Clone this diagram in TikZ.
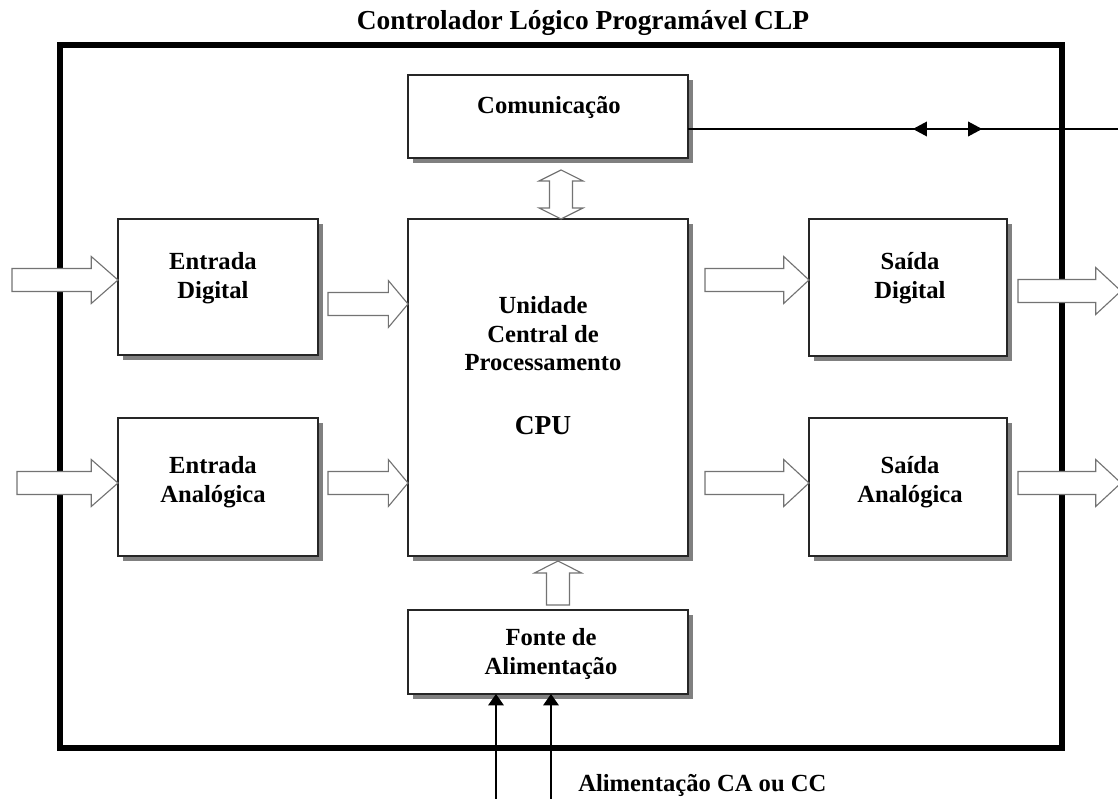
\documentclass[tikz,border=0pt]{standalone}
\usepackage{fontspec}
\setmainfont{Liberation Serif}
\usetikzlibrary{calc,fit,shadows,arrows.meta,decorations.markings}

\tikzset{
	bloco/.style={draw=black!85, line width=0.85pt, fill=white, inner sep=0pt, outer sep=0pt,
		drop shadow={shadow xshift=3.6pt, shadow yshift=-3.6pt, fill=black!50, opacity=1}},
	moldura/.style={draw=black, line width=4pt, inner sep=0pt, outer sep=0pt},
	rotulo/.style={font=\bfseries\fontsize{17.5}{20.3}\selectfont, align=center, inner sep=0pt},
	titulo/.style={font=\bfseries\fontsize{19.5}{23}\selectfont, inner sep=0pt},
	seta/.style={draw=black!55, fill=white, line width=0.8pt, to path={
		let \p1=(\tikztostart), \p2=(\tikztotarget),
			\n1={atan2(\y2-\y1,\x2-\x1)}, \n2={veclen(\x2-\x1,\y2-\y1)} in
		($(\p1)+(\n1+90:8.2pt)$) -- ($(\p1)+(\n1:\n2-#1)+(\n1+90:8.2pt)$)
		-- ($(\p1)+(\n1:\n2-#1)+(\n1+90:16.7pt)$) -- (\p2)
		-- ($(\p1)+(\n1:\n2-#1)+(\n1-90:16.7pt)$) -- ($(\p1)+(\n1:\n2-#1)+(\n1-90:8.2pt)$)
		-- ($(\p1)+(\n1-90:8.2pt)$) -- cycle}},
	seta/.default=18pt,
	setadupla/.style={draw=black!55, fill=white, line width=0.8pt, to path={
		let \p1=(\tikztostart), \p2=(\tikztotarget),
			\n1={atan2(\y2-\y1,\x2-\x1)}, \n2={veclen(\x2-\x1,\y2-\y1)} in
		(\p1) -- ($(\p1)+(\n1:#1)+(\n1+90:15.6pt)$) -- ($(\p1)+(\n1:#1)+(\n1+90:8.2pt)$)
		-- ($(\p1)+(\n1:\n2-#1)+(\n1+90:8.2pt)$) -- ($(\p1)+(\n1:\n2-#1)+(\n1+90:15.6pt)$)
		-- (\p2) -- ($(\p1)+(\n1:\n2-#1)+(\n1-90:15.6pt)$) -- ($(\p1)+(\n1:\n2-#1)+(\n1-90:8.2pt)$)
		-- ($(\p1)+(\n1:#1)+(\n1-90:8.2pt)$) -- ($(\p1)+(\n1:#1)+(\n1-90:15.6pt)$) -- cycle}},
	setadupla/.default=8pt,
	bidir/.style={line width=0.8pt, decoration={markings,
		mark=at position 0.523 with {\arrowreversed{Triangle[length=10pt,width=10.5pt]}},
		mark=at position 0.684 with {\arrow{Triangle[length=10pt,width=10.5pt]}}},
		postaction={decorate}},
	alim/.style={line width=0.8pt, -{Triangle[length=8pt,width=11pt]}}
}

\begin{document}
\begin{tikzpicture}[x=0.025cm, y=-0.025cm]
\useasboundingbox (0,0) rectangle (1118,799);
\node [moldura, fit={(60,45) (1062,748)}] (clp) {};
\node [bloco, fit={(408,75) (688,158)}] (com) {};
\node [bloco, fit={(408,219) (688,556)}] (cpu) {};
\node [bloco, fit={(118,219) (318,355)}] (ed) {};
\node [bloco, fit={(118,418) (318,556)}] (ea) {};
\node [bloco, fit={(809,219) (1007,356)}] (sd) {};
\node [bloco, fit={(809,418) (1007,556)}] (sa) {};
\node [bloco, fit={(408,610) (688,694)}] (fonte) {};
\path
	(583,30) node [titulo, anchor=base] (tclp) {Controlador Lógico Programável CLP}
	(549,107) node [rotulo] (tcom) {Comunicação}
	(213,278) node [rotulo] (ted) {Entrada\\Digital}
	(213,482) node [rotulo] (tea) {Entrada\\Analógica}
	(910,278) node [rotulo] (tsd) {Saída\\Digital}
	(910,482) node [rotulo] (tsa) {Saída\\Analógica}
	(543,334) node [rotulo] (tcpu) {Unidade\\Central de\\Processamento}
	(543,426) node [titulo] (tsigla) {CPU}
	(551,654) node [rotulo] (tfonte) {Fonte de\\Alimentação}
	(578,785) node [rotulo, anchor=west] (talim) {Alimentação CA ou CC};
\path
	(12,280) coordinate (e1)
	(17,483) coordinate (e2)
	(328,304) coordinate (c1)
	(328,483) coordinate (c2)
	(705,280) coordinate (s1)
	(705,483) coordinate (s2)
	(1018,291) coordinate (o1)
	(1121,291) coordinate (f1)
	(1018,483) coordinate (o2)
	(1121,483) coordinate (f2)
	(561,170) coordinate (d1)
	(558,605) coordinate (u1)
	(1118,129) coordinate (k1)
	(496,799) coordinate (ca1)
	(551,799) coordinate (ca2);
\draw [seta=19pt] (e1) to (ed.west |- e1);
\draw [seta=19pt] (e2) to (ea.west |- e2);
\draw [seta=14pt] (c1) to (cpu.west |- c1);
\draw [seta=14pt] (c2) to (cpu.west |- c2);
\draw [seta=18pt] (s1) to (sd.west |- s1);
\draw [seta=18pt] (s2) to (sa.west |- s2);
\draw [seta=18pt] (o1) to (f1);
\draw [seta=18pt] (o2) to (f2);
\draw [setadupla=7.8pt] (d1) to (cpu.north -| d1);
\draw [seta=8.5pt] (u1) to ($(cpu.south -| u1)+(0,5)$);
\draw [bidir] (com.east |- k1) -- (k1);
\draw [alim] (ca1) -- (ca1 |- fonte.south);
\draw [alim] (ca2) -- (ca2 |- fonte.south);
\end{tikzpicture}
\end{document}
